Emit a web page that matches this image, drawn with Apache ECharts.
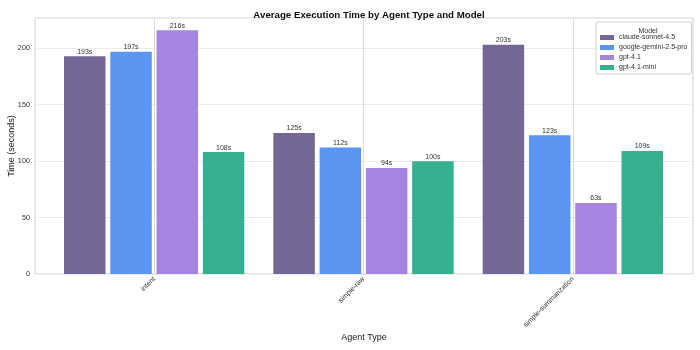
<!DOCTYPE html>
<html>
<head>
<meta charset="utf-8">
<script src="https://cdn.jsdelivr.net/npm/echarts@6/dist/echarts.min.js"></script>
<style>html,body{margin:0;padding:0;background:#fff}#c{width:700px;height:350px}</style>
</head>
<body>
<div id="c"></div>
<script>
const categories = ['intent', 'simple-raw', 'simple-summarization'];
const models = ['claude-sonnet-4.5', 'google-gemini-2.5-pro', 'gpt-4.1', 'gpt-4.1-mini'];
const claudeValues = [193, 125, 203];
const geminiValues = [197, 112, 123];
const gpt41Values = [216, 94, 63];
const gpt41miniValues = [108, 100, 109];
const yTicks = [0, 50, 100, 150, 200];
const colors = ['#746798', '#5b95f2', '#a585e0', '#35b090'];
const seriesValues = [claudeValues, geminiValues, gpt41Values, gpt41miniValues];

const FONT = '"Liberation Sans", Arial, sans-serif';
const YMAX = 226.8;

const chart = echarts.init(document.getElementById('c'), null, {renderer: 'canvas'});

const barSeries = seriesValues.map((vals, i) => ({
  name: models[i],
  type: 'bar',
  xAxisIndex: 1, yAxisIndex: 1,
  data: vals,
  barWidth: 41.5,
  barGap: '11.5%',
  itemStyle: {color: colors[i]},
  label: {show: true, position: 'top', distance: 1, formatter: '{c}s',
          fontSize: 7, color: '#333', fontFamily: FONT},
  z: 3
}));

const vLineSeries = {
  type: 'line', xAxisIndex: 1, yAxisIndex: 1, data: [], silent: true,
  markLine: {
    symbol: 'none', silent: true, label: {show: false},
    lineStyle: {color: '#dcdcdc', width: 1, type: 'solid'},
    data: categories.map(c => [{coord: [c, 0]}, {coord: [c, YMAX]}])
  },
  z: 1
};

chart.setOption({
  backgroundColor: '#fff',
  animation: false,
  textStyle: {fontFamily: FONT},
  title: [{
    text: 'Average Execution Time by Agent Type and Model',
    left: 364, top: 5, textAlign: 'center',
    textStyle: {fontFamily: FONT, fontSize: 9.7, fontWeight: 'bold', color: '#111'}
  }, {
    text: 'Model',
    left: 643, top: 23, textAlign: 'center',
    textStyle: {fontFamily: FONT, fontSize: 7, fontWeight: 'normal', color: '#333'}
  }],
  legend: {
    data: models,
    orient: 'vertical',
    left: 596, top: 22,
    padding: [11, 4, 2, 4],
    borderColor: '#d0d0d0', borderWidth: 1, borderRadius: 2,
    backgroundColor: '#fff',
    itemWidth: 14, itemHeight: 5, itemGap: 1,
    icon: 'rect',
    textStyle: {fontFamily: FONT, fontSize: 7, color: '#333', lineHeight: 9}
  },
  grid: [
    {left: 35, right: 7, top: 18, bottom: 76, show: true, borderColor: '#cfcfcf', borderWidth: 1,
     backgroundColor: 'transparent', containLabel: false, outerBoundsMode: 'none'},
    {left: 49.5, right: 22.5, top: 18, bottom: 76, containLabel: false, outerBoundsMode: 'none'}
  ],
  xAxis: [
    {gridIndex: 0, type: 'category', data: categories, show: true,
     axisLine: {show: false}, axisTick: {show: false}, axisLabel: {show: false}, splitLine: {show: false},
     name: 'Agent Type', nameLocation: 'middle', nameGap: 59, nameMoveOverlap: false,
     nameTextStyle: {fontFamily: FONT, fontSize: 9, color: '#222'}},
    {gridIndex: 1, type: 'category', data: categories,
     axisLine: {show: false}, axisTick: {show: false},
     axisLabel: {rotate: 45, margin: 4, fontSize: 7, color: '#333', fontFamily: FONT, interval: 0},
     splitLine: {show: false}}
  ],
  yAxis: [
    {gridIndex: 0, type: 'value', min: 0, max: YMAX, interval: 50,
     axisLine: {show: false}, axisTick: {show: false},
     axisLabel: {fontSize: 7.3, color: '#333', margin: 5, fontFamily: FONT, showMaxLabel: false,
                 formatter: v => yTicks.includes(v) ? String(v) : ''},
     splitLine: {lineStyle: {color: '#ececec', width: 1}},
     name: 'Time (seconds)', nameLocation: 'middle', nameGap: 19, nameMoveOverlap: false,
     nameTextStyle: {fontFamily: FONT, fontSize: 9, color: '#222'}},
    {gridIndex: 1, type: 'value', min: 0, max: YMAX, interval: 50, show: false,
     splitLine: {show: false}}
  ],
  series: [...barSeries, vLineSeries]
});
</script>
</body>
</html>
